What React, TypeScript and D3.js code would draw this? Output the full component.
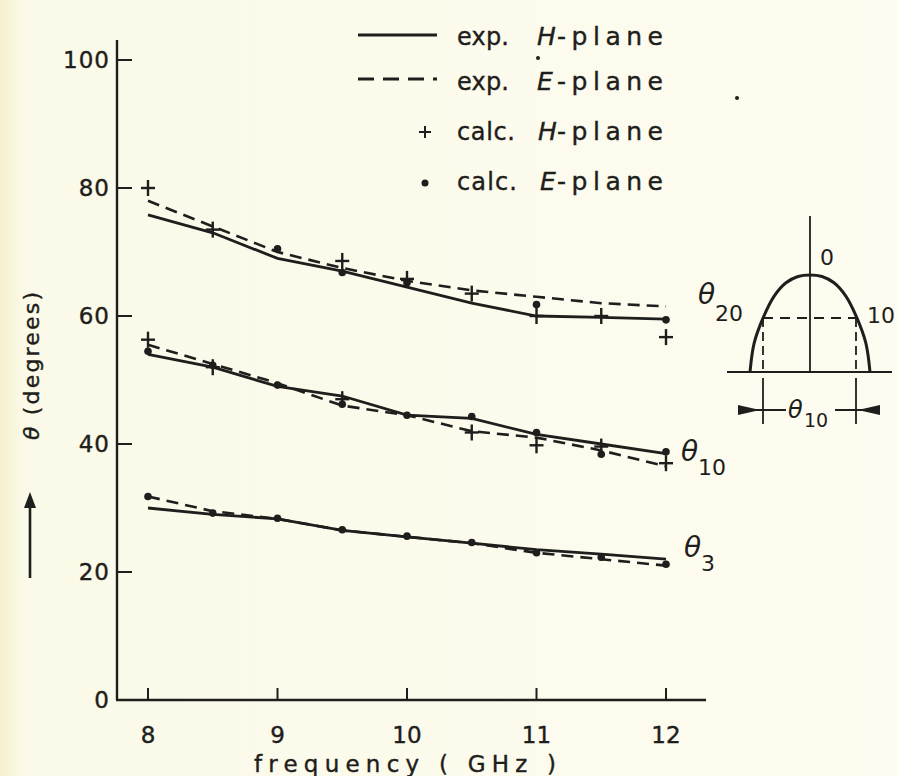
import React from "react";
import * as d3 from "d3";

const freqs = [8, 8.5, 9, 9.5, 10, 10.5, 11, 11.5, 12];

// theta20
const expH20 = [75.8, 73, 69, 67, 64.5, 62, 60, 59.8, 59.5];
const expE20 = [78, 74, 70, 67.5, 65.5, 64, 63, 62, 61.5];
const calcH20: [number, number][] = [[8, 80], [8.5, 73.5], [9.5, 68.6], [10, 65.8], [10.5, 63.5], [11, 60], [11.5, 60], [12, 56.7]];
const calcE20: [number, number][] = [[9, 70.5], [9.5, 66.8], [10, 65.2], [11, 61.8], [12, 59.4]];

// theta10
const expH10 = [54, 52, 49, 47.5, 44.5, 44, 41.5, 40, 38.5];
const expE10 = [55.5, 52.5, 49.5, 46, 44.5, 42, 41, 39, 36.5];
const calcH10: [number, number][] = [[8, 56.3], [8.5, 52], [9.5, 47], [10.5, 41.8], [11, 39.8], [11.5, 39.6], [12, 37]];
const calcE10: [number, number][] = [[8, 54.5], [8.5, 52.3], [9, 49.2], [9.5, 46.2], [10, 44.5], [10.5, 44.3], [11, 41.8], [11.5, 38.4], [12, 38.8]];

// theta3
const expH3 = [30, 29, 28.3, 26.5, 25.5, 24.5, 23.5, 22.8, 22];
const expE3 = [31.8, 29.5, 28.3, 26.5, 25.5, 24.5, 23, 22, 21];
const calcE3 = [31.8, 29.2, 28.4, 26.6, 25.6, 24.6, 23, 22.3, 21.2];

const xTicks = [8, 9, 10, 11, 12];
const yTicks = [0, 20, 40, 60, 80, 100];

// inset schematic pattern (normalized)
const insetDome: [number, number][] = [[-1, 0], [-0.93, 0.3], [-0.78, 0.56], [-0.6, 0.78], [-0.4, 0.92], [-0.2, 0.985], [0, 1], [0.2, 0.985], [0.4, 0.92], [0.6, 0.78], [0.78, 0.56], [0.93, 0.3], [1, 0]];

const INK = "#1e1e1c";
const FONT = "'DejaVu Sans', sans-serif";
const TS = { stroke: INK, strokeWidth: 0.4 };

export default function App() {
  const x = d3.scaleLinear().domain([8, 12]).range([148, 666]);
  const y = d3.scaleLinear().domain([0, 100]).range([700, 60]);
  const line = d3.line<[number, number]>().x(d => x(d[0])).y(d => y(d[1]));
  const zip = (v: number[]) => freqs.map((f, i) => [f, v[i]] as [number, number]);

  const xs = d3.scaleLinear().domain([-1, 1]).range([750, 870]);
  const ys = d3.scaleLinear().domain([0, 1]).range([372, 275]);
  const dome = d3.line<[number, number]>().x(d => xs(d[0])).y(d => ys(d[1])).curve(d3.curveCatmullRom);

  const plus = (p: [number, number], k: string) => (
    <g key={k} stroke={INK} strokeWidth={2.4}>
      <line x1={x(p[0]) - 7} x2={x(p[0]) + 7} y1={y(p[1])} y2={y(p[1])} />
      <line x1={x(p[0])} x2={x(p[0])} y1={y(p[1]) - 8} y2={y(p[1]) + 8} />
    </g>
  );
  const dot = (p: [number, number], k: string) => (
    <circle key={k} cx={x(p[0])} cy={y(p[1])} r={3.8} fill={INK} />
  );

  const solid = [expH20, expH10, expH3];
  const dashed = [expE20, expE10, expE3];

  return (
    <svg width={898} height={776} style={{ position: "absolute", left: 0, top: 0 }} fontFamily={FONT}>
      <defs>
        <linearGradient id="bg" x1="0" x2="1" y1="0" y2="0">
          <stop offset="0" stopColor="#f6f0cc" />
          <stop offset="0.025" stopColor="#fbf9e8" />
          <stop offset="1" stopColor="#fdfcf0" />
        </linearGradient>
      </defs>
      <rect width={898} height={776} fill="url(#bg)" />

      {/* axes */}
      <line x1={117} x2={117} y1={40} y2={700} stroke={INK} strokeWidth={2.4} />
      <line x1={116} x2={706} y1={700} y2={700} stroke={INK} strokeWidth={2.4} />
      {yTicks.map(t => (
        <g key={"y" + t}>
          {t > 0 && <line x1={117} x2={132} y1={y(t)} y2={y(t)} stroke={INK} strokeWidth={2} />}
          <text x={110} y={y(t)} dy="0.36em" textAnchor="end" fontSize={23} letterSpacing={1} fill={INK} {...TS}>{t}</text>
        </g>
      ))}
      {xTicks.map(t => (
        <g key={"x" + t}>
          <line x1={x(t)} x2={x(t)} y1={700} y2={688} stroke={INK} strokeWidth={2} />
          <text x={x(t)} y={735} dy="0.36em" textAnchor="middle" fontSize={23} fill={INK} {...TS}>{t}</text>
        </g>
      ))}
      <text x={405} y={772} textAnchor="middle" fontSize={23} textLength={302} lengthAdjust="spacing" fill={INK} {...TS}>frequency ( GHz )</text>

      {/* y-axis title */}
      <g transform="translate(39,366) rotate(-90)">
        <text x={0} y={0} textAnchor="middle" fontSize={22} textLength={148} lengthAdjust="spacing" fill={INK} {...TS}>
          <tspan fontStyle="italic">θ</tspan> (degrees)
        </text>
      </g>
      <line x1={30} x2={30} y1={578} y2={505} stroke={INK} strokeWidth={2.6} />
      <path d="M24,508 L30,492 L36,508 Z" fill={INK} />

      {/* curves */}
      {solid.map((s, i) => (
        <path key={"s" + i} d={line(zip(s)) || ""} fill="none" stroke={INK} strokeWidth={2.8} />
      ))}
      {dashed.map((s, i) => (
        <path key={"d" + i} d={line(zip(s)) || ""} fill="none" stroke={INK} strokeWidth={2.6} strokeDasharray="12 7" />
      ))}
      {calcH20.map((p, i) => plus(p, "h20" + i))}
      {calcH10.map((p, i) => plus(p, "h10" + i))}
      {calcE20.map((p, i) => dot(p, "e20" + i))}
      {calcE10.map((p, i) => dot(p, "e10" + i))}
      {zip(calcE3).map((p, i) => dot(p, "e3" + i))}

      {/* curve labels */}
      <g fill={INK}>
        <text x={698} y={304} fontSize={28} fontStyle="italic">θ</text>
        <text x={715} y={321} fontSize={22}>20</text>
        <text x={681} y={461} fontSize={28} fontStyle="italic">θ</text>
        <text x={698} y={475} fontSize={22}>10</text>
        <text x={684} y={557} fontSize={28} fontStyle="italic">θ</text>
        <text x={701} y={571} fontSize={22}>3</text>
      </g>

      {/* legend */}
      <line x1={358} x2={437} y1={35} y2={35} stroke={INK} strokeWidth={3} />
      <line x1={358} x2={437} y1={79} y2={79} stroke={INK} strokeWidth={3} strokeDasharray="16 9" />
      <line x1={419} x2={431} y1={132} y2={132} stroke={INK} strokeWidth={2} />
      <line x1={425} x2={425} y1={126} y2={138} stroke={INK} strokeWidth={2} />
      <circle cx={425} cy={183} r={3.5} fill={INK} />
      {[
        { yy: 45, a: "exp.", b: "H", aw: 52, bx: 537 },
        { yy: 90, a: "exp.", b: "E", aw: 52, bx: 537 },
        { yy: 140, a: "calc.", b: "H", aw: 58, bx: 538 },
        { yy: 190, a: "calc.", b: "E", aw: 60, bx: 540 },
      ].map((r, i) => (
        <g key={"lg" + i} fill={INK} {...TS}>
          <text x={457} y={r.yy} fontSize={24} textLength={r.aw} lengthAdjust="spacing">{r.a}</text>
          <text x={r.bx} y={r.yy} fontSize={25} fontStyle="italic">{r.b}</text>
          <text x={557} y={r.yy} fontSize={25} textLength={106} lengthAdjust="spacing">-plane</text>
        </g>
      ))}
      <circle cx={538} cy={58} r={2} fill={INK} />
      <circle cx={737} cy={98} r={2} fill={INK} />

      {/* inset */}
      <line x1={810} x2={810} y1={216} y2={372} stroke={INK} strokeWidth={1.8} />
      <line x1={727} x2={892} y1={372} y2={372} stroke={INK} strokeWidth={2} />
      <path d={dome(insetDome) || ""} fill="none" stroke={INK} strokeWidth={3} />
      <line x1={763} x2={856} y1={318} y2={318} stroke={INK} strokeWidth={1.8} strokeDasharray="10 7" />
      <line x1={763} x2={763} y1={318} y2={372} stroke={INK} strokeWidth={1.8} strokeDasharray="9 5" />
      <line x1={856} x2={856} y1={318} y2={372} stroke={INK} strokeWidth={1.8} strokeDasharray="9 5" />
      <line x1={763} x2={763} y1={378} y2={424} stroke={INK} strokeWidth={1.8} />
      <line x1={856} x2={856} y1={378} y2={424} stroke={INK} strokeWidth={1.8} />
      <line x1={750} x2={786} y1={410} y2={410} stroke={INK} strokeWidth={2} />
      <line x1={835} x2={870} y1={410} y2={410} stroke={INK} strokeWidth={2} />
      <path d="M738,405 L760,410 L738,415 Z" fill={INK} />
      <path d="M880,405 L858,410 L880,415 Z" fill={INK} />
      <g fill={INK}>
        <text x={788} y={418} fontSize={24} fontStyle="italic">θ</text>
        <text x={804} y={427} fontSize={19}>10</text>
        <text x={820} y={265} fontSize={22}>0</text>
        <text x={867} y={323} fontSize={22}>10</text>
      </g>
    </svg>
  );
}
